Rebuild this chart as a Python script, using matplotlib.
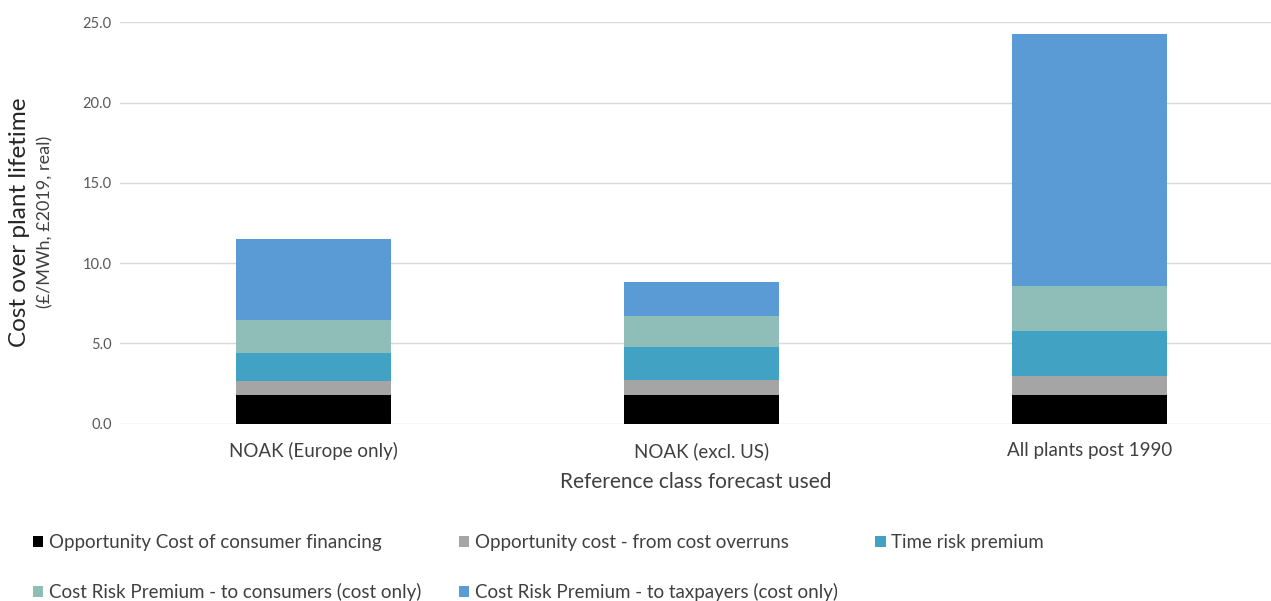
import numpy as np
import matplotlib
matplotlib.use("Agg")
import matplotlib.pyplot as plt

plt.rcParams['font.family'] = ['Lato', 'DejaVu Sans']

# Reference class forecasts and the cost components stacked in each bar
categories = ['NOAK (Europe only)', 'NOAK (excl. US)', 'All plants post 1990']
series_names = [
    'Opportunity Cost of consumer financing',
    'Opportunity cost - from cost overruns',
    'Time risk premium',
    'Cost Risk Premium - to consumers (cost only)',
    'Cost Risk Premium - to taxpayers (cost only)',
]
consumer_financing = [1.77, 1.76, 1.77]
cost_overruns = [0.92, 0.94, 1.20]
time_risk = [1.72, 2.06, 2.79]
risk_consumers = [2.03, 1.95, 2.82]
risk_taxpayers = [5.08, 2.10, 15.70]
yticks = [0, 5, 10, 15, 20, 25]

colors = ['#000000', '#a5a5a5', '#41a2c4', '#8fbeb8', '#5b9bd5']
series = [consumer_financing, cost_overruns, time_risk, risk_consumers, risk_taxpayers]

fig = plt.figure(figsize=(12.71, 6.01), dpi=100)
ax = fig.add_axes([120 / 1271, 0.295, 1 - 120 / 1271, 0.9626 - 0.295])

x = np.arange(len(categories))
bottom = np.zeros(len(categories))
handles = []
for name, vals, col in zip(series_names, series, colors):
    b = ax.bar(x, vals, width=0.4, bottom=bottom, color=col, label=name, zorder=3)
    handles.append(b)
    bottom += np.array(vals)

ax.set_ylim(0, 25)
ax.set_xlim(-0.5, 2.468)
ax.set_yticks(yticks)
ax.set_yticklabels([f'{v:.1f}' for v in yticks], fontsize=10.5, color='#595959')
ax.set_xticks(x)
ax.set_xticklabels(categories, fontsize=13.5, color='#404040')
ax.tick_params(axis='both', length=0)
ax.tick_params(axis='x', pad=13)
ax.tick_params(axis='y', pad=6)
ax.grid(axis='y', color='#d9d9d9', linewidth=1, zorder=0)
for s in ax.spines.values():
    s.set_visible(False)

ax.set_xlabel('Reference class forecast used', fontsize=15, color='#404040', labelpad=9)

fig.text(20 / 1271, 1 - 222 / 601, 'Cost over plant lifetime', rotation=90,
         ha='center', va='center', fontsize=17.5, color='#262626')
fig.text(45 / 1271, 1 - 222 / 601, '(£/MWh, £2019, real)', rotation=90,
         ha='center', va='center', fontsize=13, color='#404040')

# legend fills column by column, so reorder to read across the rows
order = [0, 3, 1, 4, 2]
leg = fig.legend(handles=[handles[i] for i in order],
                 labels=[series_names[i] for i in order],
                 ncol=3, loc='upper left',
                 bbox_to_anchor=(33 / 1271, 1 - 534 / 601), frameon=False,
                 borderpad=0, borderaxespad=0,
                 fontsize=13.5, handlelength=0.55, handleheight=0.55, handletextpad=0.3,
                 columnspacing=2.0, labelspacing=1.72, labelcolor='#404040')

fig.savefig('out.png', dpi=100)
